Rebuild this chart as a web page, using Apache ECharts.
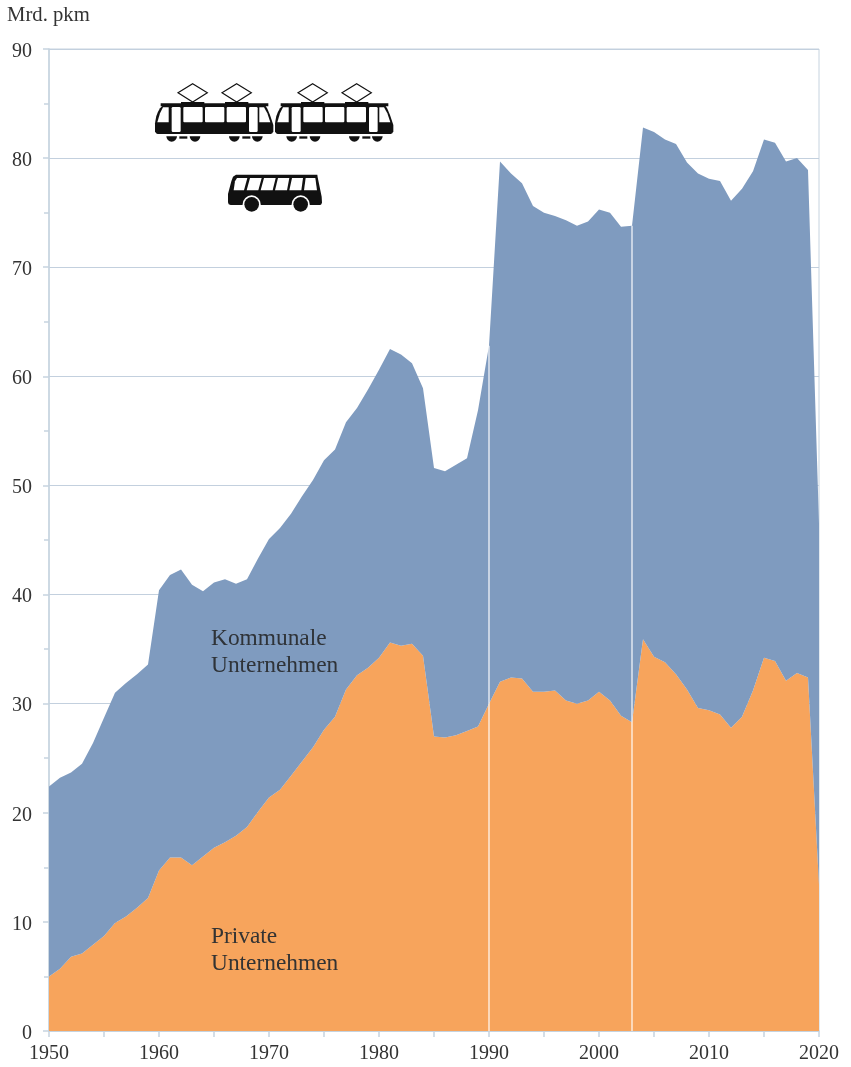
<!DOCTYPE html>
<html>
<head>
<meta charset="utf-8">
<style>html,body{margin:0;padding:0;background:#fff}#c{width:851px;height:1067px}</style>
<script src="https://cdn.jsdelivr.net/npm/echarts@6/dist/echarts.min.js"></script>
</head>
<body>
<div id="c"></div>
<script>
var years = [
  1950,1951,1952,1953,1954,1955,1956,1957,1958,1959,
  1960,1961,1962,1963,1964,1965,1966,1967,1968,1969,
  1970,1971,1972,1973,1974,1975,1976,1977,1978,1979,
  1980,1981,1982,1983,1984,1985,1986,1987,1988,1989,
  1990,1991,1992,1993,1994,1995,1996,1997,1998,1999,
  2000,2001,2002,2003,2004,2005,2006,2007,2008,2009,
  2010,2011,2012,2013,2014,2015,2016,2017,2018,2019,
  2020
];
var privateValues = [
  5.0,5.7,6.8,7.1,7.9,8.7,9.9,10.5,11.3,12.2,
  14.7,15.9,15.9,15.2,16.0,16.8,17.3,17.9,18.7,20.1,
  21.4,22.1,23.4,24.7,26.0,27.6,28.8,31.3,32.6,33.3,
  34.2,35.6,35.3,35.5,34.4,27.0,26.9,27.1,27.5,27.9,
  30.0,32.0,32.4,32.3,31.1,31.1,31.2,30.3,30.0,30.3,
  31.1,30.3,28.9,28.3,35.9,34.3,33.8,32.7,31.3,29.6,
  29.4,29.0,27.8,28.8,31.2,34.2,33.9,32.1,32.8,32.4,
  13.4
];
var communalValues = [
  17.4,17.5,16.9,17.4,18.5,20.0,21.1,21.4,21.4,21.4,
  25.7,25.9,26.4,25.7,24.3,24.3,24.1,23.1,22.7,23.2,
  23.7,24.0,24.0,24.3,24.5,24.7,24.5,24.5,24.5,25.5,
  26.4,26.9,26.7,25.7,24.5,24.6,24.4,24.8,25.0,29.0,
  32.8,47.7,46.2,45.4,44.5,43.9,43.5,44.0,43.8,43.9,
  44.2,44.7,44.8,45.5,46.9,48.1,47.9,48.6,48.3,49.0,
  48.7,48.9,48.3,48.4,47.6,47.5,47.5,47.6,47.2,46.5,
  33.1
];
var breakYears = [1990, 2003];

function topAt(y) { var i = years.indexOf(y); return privateValues[i] + communalValues[i]; }

var SERIF = '"Liberation Serif","Times New Roman",serif';
var AXIS = '#c6d3df';
var INK = '#333333';

function poly(points, fill) {
  return { type: 'polygon', shape: { points: points }, style: { fill: fill } };
}
function box(x, y, w, h, fill, r) {
  return { type: 'rect', shape: { x: x, y: y, width: w, height: h, r: r || 0 }, style: { fill: fill } };
}
function tram(dx) {
  var k = '#111', w = '#fff', c = [];
  [158, 290].forEach(function (cx) {
    c.push({ type: 'polygon', shape: { points: [[cx, 41], [cx + 44, 68], [cx, 96], [cx - 44, 68]] },
      style: { fill: '#fff', stroke: k, lineWidth: 3.5 } });
    c.push(box(cx - 35, 96, 70, 6, k));
  });
  c.push(box(62, 100, 323, 9, k));
  c.push(poly([[70, 105], [375, 105], [382, 116], [390, 135], [400, 165], [400, 184], [397, 190], [392, 192],
    [53, 192], [48, 190], [45, 184], [45, 160], [49, 138], [54, 125], [60, 115]], k));
  c.push(poly([[69, 112], [86, 112], [86, 157], [52, 157], [60, 130]], w));
  c.push(box(130, 111, 58, 46, w, 3));
  c.push(box(195, 111, 58, 46, w, 3));
  c.push(box(260, 111, 58, 46, w, 3));
  c.push(poly([[358, 112], [372, 112], [382, 130], [391, 157], [358, 157]], w));
  c.push(box(95, 111, 27, 75, w, 4));
  c.push(box(327, 111, 26, 75, w, 4));
  [95, 165, 283, 352].forEach(function (cx) {
    c.push({ type: 'sector', shape: { cx: cx, cy: 199, r0: 0, r: 16, startAngle: 0, endAngle: Math.PI, clockwise: true }, style: { fill: k } });
  });
  c.push(box(118, 199, 24, 7, k));
  c.push(box(307, 199, 24, 7, k));
  return { type: 'group', x: dx, y: 0, children: c };
}
function bus() {
  var k = '#111', w = '#fff', c = [];
  c.push(poly([[288, 314], [532, 314], [533, 322], [545, 380], [546, 398], [543, 404], [538, 405],
    [272, 405], [266, 403], [264, 397], [264, 372], [274, 334], [279, 320]], k));
  c.push(poly([[291, 324], [322, 324], [312, 361], [281, 361], [285, 334]], w));
  c.push(poly([[330, 324], [365, 324], [355, 361], [320, 361]], w));
  c.push(poly([[372, 324], [407, 324], [398, 361], [362, 361]], w));
  c.push(poly([[414, 324], [448, 324], [441, 361], [405, 361]], w));
  c.push(poly([[456, 324], [489, 324], [484, 361], [448, 361]], w));
  c.push(poly([[497, 324], [526, 324], [531, 361], [492, 361]], w));
  [335, 482].forEach(function (cx) {
    c.push({ type: 'circle', shape: { cx: cx, cy: 403, r: 27 }, style: { fill: w } });
    c.push({ type: 'circle', shape: { cx: cx, cy: 403, r: 22 }, style: { fill: k } });
  });
  return { type: 'group', children: c };
}

var chart = echarts.init(document.getElementById('c'), null, { renderer: 'canvas' });
chart.setOption({
  animation: false,
  backgroundColor: '#ffffff',
  grid: { left: 49, top: 49, width: 770, height: 982, show: true, borderColor: AXIS, borderWidth: 1, backgroundColor: 'transparent' },
  xAxis: {
    type: 'category', data: years, boundaryGap: false,
    axisLine: { show: true, onZero: false, lineStyle: { color: AXIS, width: 1.5 } },
    axisTick: { show: true, length: 6, alignWithLabel: true, interval: function (i) { return i % 5 === 0; }, lineStyle: { color: AXIS, width: 1.5 } },
    splitLine: { show: false },
    axisLabel: { color: INK, fontFamily: SERIF, fontSize: 20, margin: 13, interval: function (i) { return i % 10 === 0; }, hideOverlap: false, showMinLabel: true, showMaxLabel: true }
  },
  yAxis: {
    type: 'value', min: 0, max: 90, interval: 10,
    name: 'Mrd. pkm', nameLocation: 'end', nameGap: 23,
    nameTextStyle: { color: INK, fontFamily: SERIF, fontSize: 20.7, align: 'left', padding: [0, 0, 0, -42] },
    axisLine: { show: true, lineStyle: { color: AXIS, width: 1.5 } },
    axisTick: { show: true, length: 6, lineStyle: { color: AXIS, width: 1.5 } },
    minorTick: { show: true, splitNumber: 2, length: 5, lineStyle: { color: AXIS, width: 1.5 } },
    splitLine: { show: true, lineStyle: { color: '#c3d0de', width: 1 } },
    axisLabel: { color: INK, fontFamily: SERIF, fontSize: 20, margin: 17, verticalAlign: 'top', lineHeight: 5 }
  },
  series: [
    { name: 'Private Unternehmen', type: 'line', stack: 'pkm', data: privateValues, symbol: 'none', smooth: false,
      lineStyle: { width: 0 }, areaStyle: { color: '#f7a45c', opacity: 1 }, z: 3 },
    { name: 'Kommunale Unternehmen', type: 'line', stack: 'pkm', data: communalValues, symbol: 'none', smooth: false,
      lineStyle: { width: 0 }, areaStyle: { color: '#7f9bbf', opacity: 1 }, z: 3,
      markLine: {
        silent: true, symbol: 'none', label: { show: false }, z: 5,
        lineStyle: { color: 'rgba(255,255,255,0.72)', width: 1.6, type: 'solid' },
        data: breakYears.map(function (y) { return [{ coord: [String(y), 0] }, { coord: [String(y), topAt(y)] }]; })
      } }
  ],
  graphic: [
    { type: 'group', x: 140, y: 70, scaleX: 1 / 3, scaleY: 1 / 3, z: 10, children: [tram(0), tram(360), bus()] },
    { type: 'text', x: 211, y: 625, z: 10, style: { text: 'Kommunale\nUnternehmen', font: '23.4px ' + SERIF, fill: '#2f3338', lineHeight: 27 } },
    { type: 'text', x: 211, y: 923, z: 10, style: { text: 'Private\nUnternehmen', font: '23.4px ' + SERIF, fill: '#333333', lineHeight: 27 } }
  ]
});
</script>
</body>
</html>
